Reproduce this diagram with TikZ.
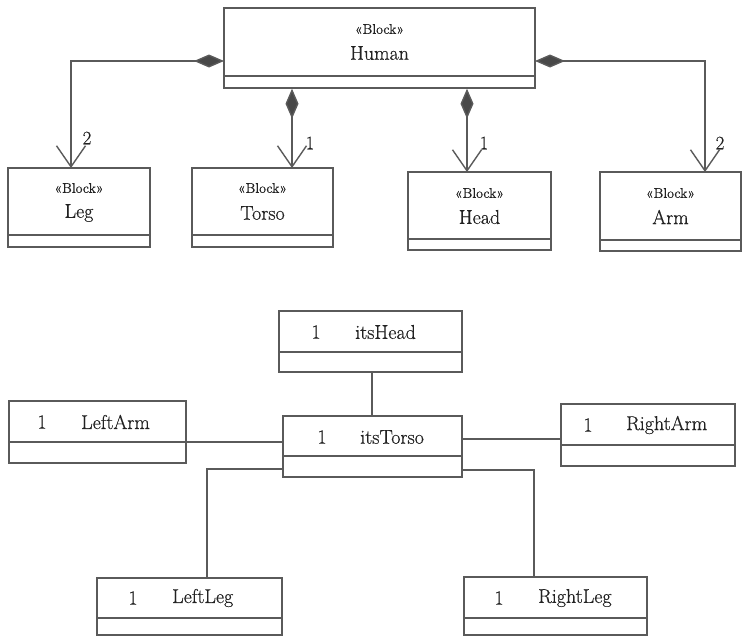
\documentclass[tikz,border=0pt]{standalone}
\usepackage{fontspec}
\setmainfont{Latin Modern Roman}[FakeBold=0.5]
\usetikzlibrary{arrows.meta}
\definecolor{ln}{HTML}{5A5A5A}
\definecolor{tx}{HTML}{222222}
\tikzset{
  box/.style={draw=ln, line width=1.4pt, fill=white, inner sep=0pt},
  divl/.style={draw=ln, line width=1.4pt},
  stereo/.style={text=tx, font=\fontsize{14}{16}\selectfont, inner sep=0pt},
  bname/.style={text=tx, font=\fontsize{20}{24}\selectfont, inner sep=0pt},
  mult/.style={text=tx, font=\fontsize{19}{22}\selectfont, inner sep=0pt},
  comp/.style={draw=ln, line width=1.4pt,
    {Diamond[length=30pt,width=13pt,fill=ln!80!black]}-{Straight Barb[length=21pt,width=29pt,line width=1.4pt]}},
  link/.style={draw=ln, line width=1.4pt},
}
\begin{document}
\begin{tikzpicture}[x=1pt,y=-1pt]
\useasboundingbox (0,0) rectangle (743,637);

% ---------- top: block definition ----------
\node[box, minimum width=311pt, minimum height=80pt] (human) at (379.5,48) {};
\draw[divl] (224,76) -- (535,76);
\node[stereo] (humanS) at (379.5,29) {«Block»};
\node[bname] (humanN) at (379.5,53) {Human};

\node[box, minimum width=142pt, minimum height=79pt] (leg) at (79,207.5) {};
\draw[divl] (8,235) -- (150,235);
\node[stereo] (legS) at (79,188) {«Block»};
\node[bname] (legN) at (79,213) {Leg};

\node[box, minimum width=141pt, minimum height=79pt] (torso) at (262.5,207.5) {};
\draw[divl] (192,235) -- (333,235);
\node[stereo] (torsoS) at (262.5,188) {«Block»};
\node[bname] (torsoN) at (262.5,213) {Torso};

\node[box, minimum width=143pt, minimum height=78pt] (head) at (479.5,211) {};
\draw[divl] (408,239) -- (551,239);
\node[stereo] (headS) at (479.5,193) {«Block»};
\node[bname] (headN) at (479.5,217) {Head};

\node[box, minimum width=141pt, minimum height=79pt] (arm) at (670.5,211.5) {};
\draw[divl] (600,240) -- (741,240);
\node[stereo] (armS) at (670.5,193) {«Block»};
\node[bname] (armN) at (670.5,217) {Arm};

\coordinate (hL) at (224,61);
\coordinate (hR) at (535,61);
\coordinate (legT) at (71,168);
\coordinate (torsoT) at (292,168);
\coordinate (headT) at (467,172);
\coordinate (armT) at (705,172);

\draw[comp] (hL) -| (legT);
\draw[comp] (torsoT |- human.south) -- (torsoT);
\draw[comp] (headT |- human.south) -- (headT);
\draw[comp] (hR) -| (armT);

\node[mult] (m1) at (87,138) {2};
\node[mult] (m2) at (310,143) {1};
\node[mult] (m3) at (484,143) {1};
\node[mult] (m4) at (720,143) {2};

% ---------- bottom: internal structure ----------
\node[box, minimum width=183pt, minimum height=61pt] (itsHead) at (370.5,341.5) {};
\draw[divl] (279,352) -- (462,352);
\node[bname] (ihA) at (316,332) {1};
\node[bname, anchor=west] (ihB) at (355,332) {itsHead};

\node[box, minimum width=179pt, minimum height=61pt] (itsTorso) at (372.5,446.5) {};
\draw[divl] (283,456) -- (462,456);
\node[bname] (itA) at (322,437) {1};
\node[bname, anchor=west] (itB) at (360,437) {itsTorso};

\node[box, minimum width=177pt, minimum height=62pt] (leftArm) at (97.5,432) {};
\draw[divl] (9,442) -- (186,442);
\node[bname] (laA) at (42,422) {1};
\node[bname, anchor=west] (laB) at (81,422) {LeftArm};

\node[box, minimum width=174pt, minimum height=62pt] (rightArm) at (648,435) {};
\draw[divl] (561,445) -- (735,445);
\node[bname] (raA) at (588,425) {1};
\node[bname, anchor=west] (raB) at (626,425) {RightArm};

\node[box, minimum width=185pt, minimum height=57pt] (leftLeg) at (189.5,606.5) {};
\draw[divl] (97,618) -- (282,618);
\node[bname] (llA) at (133,598) {1};
\node[bname, anchor=west] (llB) at (172,598) {LeftLeg};

\node[box, minimum width=183pt, minimum height=58pt] (rightLeg) at (555.5,606) {};
\draw[divl] (464,618) -- (647,618);
\node[bname] (rlA) at (499,598) {1};
\node[bname, anchor=west] (rlB) at (538,598) {RightLeg};

\coordinate (hd) at (372,400);
\coordinate (la) at (186,442);
\coordinate (ra) at (561,439);
\coordinate (ll) at (207,469);
\coordinate (rl) at (534,470);

\draw[link] (hd |- itsTorso.north) -- (hd |- itsHead.south);
\draw[link] (la) -- (la -| itsTorso.west);
\draw[link] (ra -| itsTorso.east) -- (ra);
\draw[link] (ll -| itsTorso.west) -- (ll) -- (ll |- leftLeg.north);
\draw[link] (rl -| itsTorso.east) -- (rl) -- (rl |- rightLeg.north);
\end{tikzpicture}
\end{document}
